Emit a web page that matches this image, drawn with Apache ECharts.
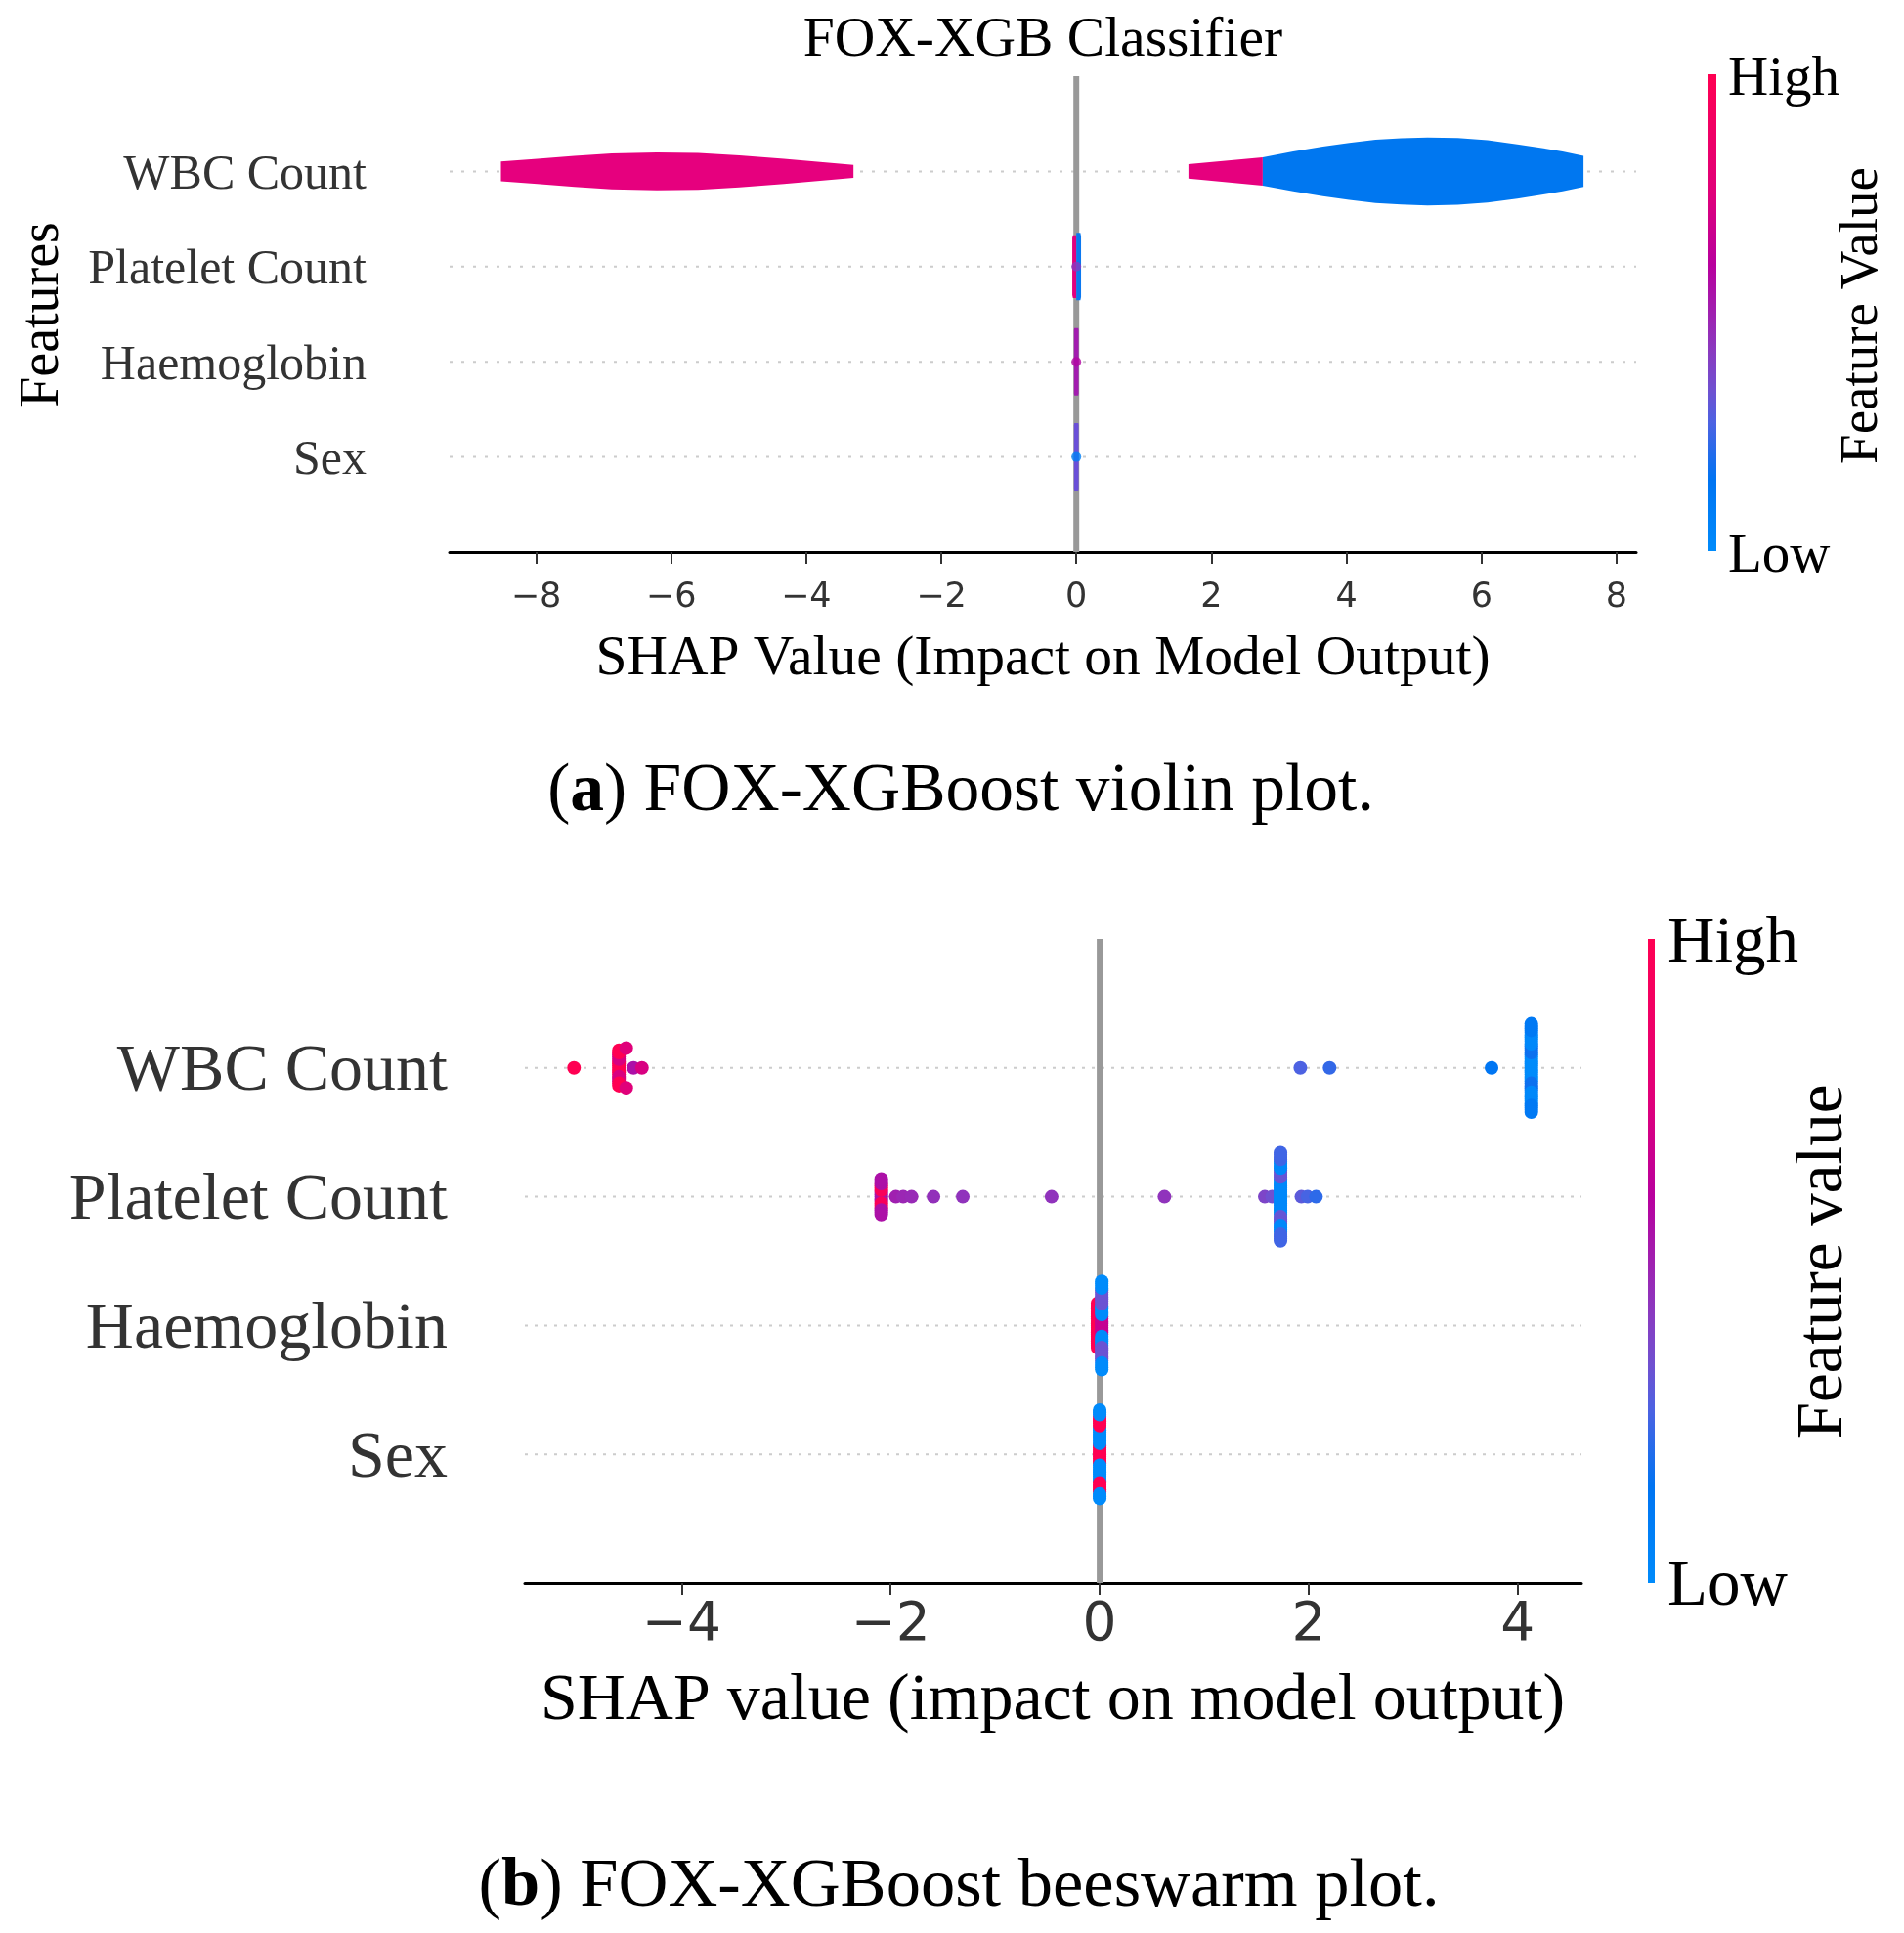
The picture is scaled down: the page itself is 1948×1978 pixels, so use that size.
<!DOCTYPE html>
<html>
<head>
    <meta charset="utf-8">
    <title>FOX-XGBoost SHAP plots</title>
    <script src="https://cdn.jsdelivr.net/npm/echarts@6/dist/echarts.min.js"></script>
    <style>html, body { margin: 0; padding: 0; background: #fff; }</style>
</head>
<body>
<div id="chart" style="width: 1948px; height: 1978px;"></div>
<script>
    // rows from the bottom up (row 0 = Sex)
    var features = ['Sex', 'Haemoglobin', 'Platelet Count', 'WBC Count'];

    var violinTicks = [-8, -6, -4, -2, 0, 2, 4, 6, 8];
    var swarmTicks = [-4, -2, 0, 2, 4];

    // violin outlines: SHAP value and half width (row units)
    var wbcNegX = [-8.52, -7.98, -7.43, -6.88, -6.21, -5.60, -4.99, -4.33, -3.30];
    var wbcNegW = [0.103, 0.132, 0.162, 0.188, 0.198, 0.193, 0.169, 0.132, 0.068];
    var wbcPosHighX = [1.66, 2.76];
    var wbcPosHighW = [0.075, 0.149];
    var wbcPosLowX = [2.76, 3.21, 3.65, 4.04, 4.43, 4.81, 5.20, 5.65, 6.09, 6.53, 6.87, 7.20, 7.51];
    var wbcPosLowW = [0.149, 0.21, 0.260, 0.30, 0.332, 0.347, 0.357, 0.35, 0.328, 0.285, 0.248, 0.209, 0.162];
    var plateletHighX = [-0.06, -0.05, 0.0];
    var plateletHighW = [0.30, 0.33, 0.33];
    var plateletLowX = [0.0, 0.06, 0.07];
    var plateletLowW = [0.354, 0.354, 0.32];
    var haemoX = [-0.035, -0.03, 0.03, 0.035];
    var haemoW = [0.33, 0.354, 0.354, 0.33];
    var sexX = [-0.035, -0.03, 0.03, 0.035];
    var sexW = [0.33, 0.354, 0.354, 0.33];

    // small points on the violin centre lines: [shap, row, feature value]
    var violinDots = [[0.0, 2, 0.42], [0.0, 1, 0.58], [0.0, 0, 0.08]];

    // beeswarm groups: [shap, feature value (0 low .. 1 high), count], listed centre outward
    var wbcSwarm = [
        [-5.03, 1.0, 1],
        [-4.60, 1.0, 7], [-4.60, 0.72, 6], [-4.60, 1.0, 4], [-4.53, 0.75, 2],
        [-4.46, 0.55, 1], [-4.38, 0.72, 1],
        [1.92, 0.27, 1], [2.20, 0.23, 1], [3.75, 0.14, 1],
        [4.13, 0.0, 13], [4.13, 0.17, 8], [4.13, 0.02, 12], [4.13, 0.12, 8]
    ];
    var plateletSwarm = [
        [-2.09, 0.55, 5], [-2.09, 0.95, 6], [-2.09, 0.55, 6],
        [-1.95, 0.5, 1], [-1.88, 0.48, 1], [-1.80, 0.47, 1],
        [-1.59, 0.45, 1], [-1.31, 0.44, 1], [-0.46, 0.44, 1], [0.62, 0.44, 1],
        [1.58, 0.38, 1], [1.65, 0.34, 1],
        [1.73, 0.02, 17], [1.73, 0.32, 8], [1.73, 0.02, 8], [1.73, 0.25, 8],
        [1.93, 0.3, 1], [1.99, 0.26, 1], [2.07, 0.22, 1]
    ];
    var haemoSwarm = [
        [-0.02, 1.0, 21],
        [0.02, 0.65, 9], [0.02, 0.0, 10], [0.02, 0.33, 14], [0.02, 0.0, 8]
    ];
    var sexSwarm = [
        [0.0, 1.0, 9], [0.0, 0.0, 16], [0.0, 1.0, 10], [0.0, 0.0, 6]
    ];

    var cmapStops = [
        [0.0, '#008bfb'], [0.15, '#0074f2'], [0.27, '#4d62e2'], [0.34, '#7050d0'],
        [0.42, '#8a3ac0'], [0.5, '#a020b0'], [0.6, '#b8009e'], [0.75, '#e0007a'], [1.0, '#ff0052']
    ];

    var serif = '"Liberation Serif", "DejaVu Serif", serif';
    var sans = '"DejaVu Sans", sans-serif';

    function hexRgb(h) {
        return [parseInt(h.substr(1, 2), 16), parseInt(h.substr(3, 2), 16), parseInt(h.substr(5, 2), 16)];
    }

    function cmap(v) {
        for (var i = 1; i < cmapStops.length; i++) {
            if (v <= cmapStops[i][0]) {
                var a = cmapStops[i - 1], b = cmapStops[i];
                var t = (v - a[0]) / (b[0] - a[0]);
                var ca = hexRgb(a[1]), cb = hexRgb(b[1]);
                return 'rgb(' + ca.map(function (c, k) { return Math.round(c + (cb[k] - c) * t); }).join(',') + ')';
            }
        }
        return cmapStops[cmapStops.length - 1][1];
    }

    // shap style beeswarm: bin by value, stack alternately above / below
    function beeswarm(groups, row) {
        var pts = [];
        groups.forEach(function (g) {
            for (var k = 0; k < g[2]; k++) pts.push({ x: g[0], f: g[1] });
        });
        var xs = pts.map(function (p) { return p.x; });
        var lo = Math.min.apply(null, xs), hi = Math.max.apply(null, xs);
        pts.forEach(function (p) { p.q = Math.round(100 * (p.x - lo) / (hi - lo + 1e-8)); });
        var order = pts.map(function (p, i) { return i; }).sort(function (a, b) {
            return pts[a].q - pts[b].q || a - b;
        });
        var layer = 0, last = -1, maxY = 0;
        order.forEach(function (i) {
            if (pts[i].q !== last) layer = 0;
            pts[i].ys = Math.ceil(layer / 2) * (layer % 2 ? 1 : -1);
            layer++;
            last = pts[i].q;
            if (pts[i].ys > maxY) maxY = pts[i].ys;
        });
        var scale = 0.9 * 0.4 / (maxY + 1);
        return order.map(function (i) {
            return { value: [pts[i].x, row + pts[i].ys * scale], itemStyle: { color: cmap(pts[i].f) } };
        });
    }

    var violins = [
        { row: 3, xs: wbcNegX, ws: wbcNegW, color: '#e6007e' },
        { row: 3, xs: wbcPosHighX, ws: wbcPosHighW, color: '#e6007e' },
        { row: 3, xs: wbcPosLowX, ws: wbcPosLowW, color: '#0077f0' },
        { row: 2, xs: plateletHighX, ws: plateletHighW, color: '#e0007f' },
        { row: 2, xs: plateletLowX, ws: plateletLowW, color: '#0a78f0' },
        { row: 1, xs: haemoX, ws: haemoW, color: '#a21caf' },
        { row: 0, xs: sexX, ws: sexW, color: '#6a4fd8' }
    ];

    var swarmData = [].concat(
        beeswarm(wbcSwarm, 3),
        beeswarm(plateletSwarm, 2),
        beeswarm(haemoSwarm, 1),
        beeswarm(sexSwarm, 0)
    );

    function minusFmt(v) {
        return v < 0 ? '\u2212' + (-v) : String(v);
    }

    function xAxisFor(gi, min, max, ticks, size, margin) {
        return {
            gridIndex: gi, type: 'value', min: min, max: max,
            axisLine: { show: true, onZero: false, lineStyle: { color: '#000', width: 3 } },
            axisTick: { show: true, customValues: ticks, length: 12, lineStyle: { color: '#333', width: 2 } },
            axisLabel: { customValues: ticks, formatter: minusFmt, fontFamily: sans, fontSize: size, color: '#333', margin: margin },
            splitLine: { show: false }
        };
    }

    function yAxisFor(gi, size, margin) {
        return {
            gridIndex: gi, type: 'value', min: -1, max: 4, interval: 1,
            axisLine: { show: false }, axisTick: { show: false }, splitLine: { show: false },
            axisLabel: {
                formatter: function (v) { return features[v] || ''; },
                fontFamily: serif, fontSize: size, color: '#333', margin: margin,
                verticalAlign: 'top', lineHeight: 9
            }
        };
    }

    function guideSeries(ai, dash) {
        return {
            type: 'custom', xAxisIndex: ai, yAxisIndex: ai, z: 1, silent: true,
            data: features.map(function (f, i) { return [0, i]; }),
            renderItem: function (params, api) {
                var cs = params.coordSys;
                var y = api.coord([0, api.value(1)])[1];
                return {
                    type: 'line',
                    shape: { x1: cs.x, y1: y, x2: cs.x + cs.width, y2: y },
                    style: { stroke: '#cccccc', lineWidth: 2, lineDash: dash }
                };
            }
        };
    }

    function zeroSeries(ai) {
        return {
            type: 'custom', xAxisIndex: ai, yAxisIndex: ai, z: 2, silent: true,
            data: [[0, 0]],
            renderItem: function (params, api) {
                var p1 = api.coord([0, -1]), p2 = api.coord([0, 4]);
                return {
                    type: 'line',
                    shape: { x1: p1[0], y1: p1[1], x2: p2[0], y2: p2[1] },
                    style: { stroke: '#999999', lineWidth: 6 }
                };
            }
        };
    }

    function gradient() {
        return new echarts.graphic.LinearGradient(0, 0, 0, 1, cmapStops.slice().reverse().map(function (s) {
            return { offset: 1 - s[0], color: s[1] };
        }));
    }

    function text(x, y, str, size, opts) {
        opts = opts || {};
        return {
            type: 'text', x: x, y: y, rotation: opts.rotation || 0,
            style: {
                text: str, fontFamily: serif, fontSize: size, fill: opts.color || '#000',
                align: opts.align || 'center', verticalAlign: 'middle', rich: opts.rich
            }
        };
    }

    function captionRich(size) {
        return {
            n: { fontFamily: serif, fontSize: size, fill: '#000' },
            b: { fontFamily: serif, fontSize: size, fontWeight: 'bold', fill: '#000' }
        };
    }

    var myChart = echarts.init(document.getElementById('chart'));

    var option = {
        backgroundColor: '#ffffff',
        animation: false,
        grid: [
            { left: 460, top: 78, width: 1214, height: 487 },
            { left: 537, top: 961, width: 1081, height: 659 }
        ],
        xAxis: [
            xAxisFor(0, -9.28, 8.29, violinTicks, 35, 29),
            xAxisFor(1, -5.5, 4.61, swarmTicks, 55, 16)
        ],
        yAxis: [
            yAxisFor(0, 50, 85),
            yAxisFor(1, 68, 79)
        ],
        series: [
            guideSeries(0, [3, 9]),
            zeroSeries(0),
            {
                type: 'custom', xAxisIndex: 0, yAxisIndex: 0, z: 3, silent: true,
                data: violins.map(function (v) { return [v.xs[0], v.row]; }),
                renderItem: function (params, api) {
                    var v = violins[params.dataIndex];
                    var up = [], down = [];
                    for (var i = 0; i < v.xs.length; i++) {
                        up.push(api.coord([v.xs[i], v.row + v.ws[i]]));
                        down.push(api.coord([v.xs[i], v.row - v.ws[i]]));
                    }
                    return {
                        type: 'polygon',
                        shape: { points: up.concat(down.reverse()) },
                        style: { fill: v.color }
                    };
                }
            },
            {
                type: 'scatter', xAxisIndex: 0, yAxisIndex: 0, z: 4, symbolSize: 10, silent: true,
                data: violinDots.map(function (d) {
                    return { value: [d[0], d[1]], itemStyle: { color: cmap(d[2]) } };
                })
            },
            guideSeries(1, [3, 7]),
            zeroSeries(1),
            {
                type: 'scatter', xAxisIndex: 1, yAxisIndex: 1, z: 4, symbolSize: 14, silent: true,
                itemStyle: { opacity: 1 },
                data: swarmData
            }
        ],
        graphic: [
            text(1067, 42, 'FOX-XGB Classifier', 57.5),
            text(44, 322, 'Features', 56, { rotation: Math.PI / 2 }),
            text(1067, 675, 'SHAP Value (Impact on Model Output)', 57.5),
            { type: 'rect', shape: { x: 1747, y: 76, width: 9, height: 488 }, style: { fill: gradient() } },
            text(1768, 82, 'High', 57, { align: 'left' }),
            text(1768, 570, 'Low', 57, { align: 'left' }),
            text(1906, 323, 'Feature Value', 55, { rotation: Math.PI / 2 }),
            text(983, 811, '{n|(}{b|a}{n|) FOX-XGBoost violin plot.}', 69.5, { rich: captionRich(69.5) }),

            text(1077, 1741, 'SHAP value (impact on model output)', 68),
            { type: 'rect', shape: { x: 1686, y: 961, width: 7, height: 659 }, style: { fill: gradient() } },
            text(1706, 966, 'High', 67, { align: 'left' }),
            text(1706, 1624, 'Low', 67, { align: 'left' }),
            text(1866, 1291, 'Feature value', 67, { rotation: Math.PI / 2 }),
            text(981, 1931, '{n|(}{b|b}{n|) FOX-XGBoost beeswarm plot.}', 70.5, { rich: captionRich(70.5) })
        ]
    };

    myChart.setOption(option);
</script>
</body>
</html>
